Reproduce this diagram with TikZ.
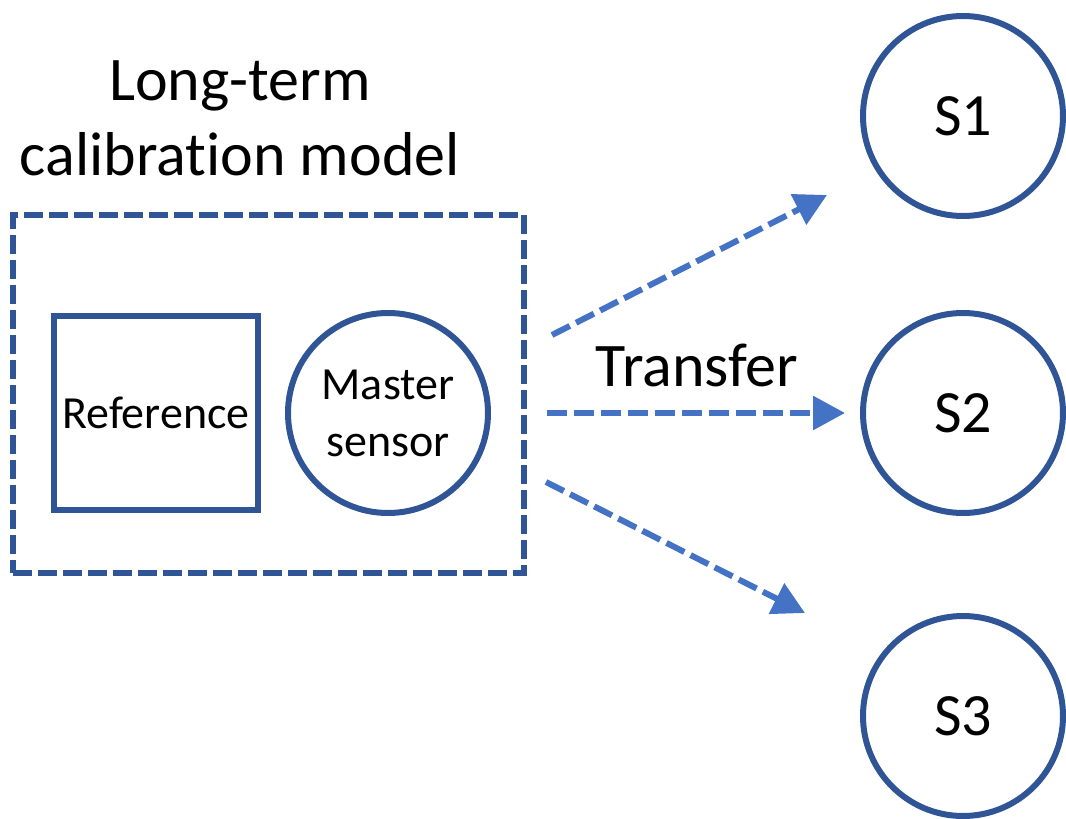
\documentclass[tikz,border=0pt]{standalone}
\usepackage{fontspec}
\setmainfont{Carlito}[Ligatures=NoCommon]
\usetikzlibrary{arrows.meta}
\definecolor{boxblue}{HTML}{2F5597}
\definecolor{arrowblue}{HTML}{4472C4}
\tikzset{
  outline/.style={draw=boxblue, line width=6pt},
  sensor/.style={outline, circle, minimum size=200pt, inner sep=0pt, font=\fontsize{60}{73}\selectfont},
  transfer/.style={draw=arrowblue, line width=6pt, dash pattern=on 20pt off 7pt,
    -{Triangle[length=32pt,width=33pt]}},
}
\begin{document}
\begin{tikzpicture}[x=1pt,y=-1pt]
\useasboundingbox (0,0) rectangle (1066,819);
\clip (0,0) rectangle (1066,819);
\node[anchor=base, font=\fontsize{62}{75}\selectfont] (title1) at (240,100) {Long-term};
\node[anchor=base, font=\fontsize{62}{75}\selectfont] (title2) at (240,175) {calibration model};
\node[draw=boxblue, line width=6pt, dash pattern=on 19pt off 6pt, minimum width=511pt, minimum height=358pt, inner sep=0pt] (model) at (268.5,394) {};
\node[outline, minimum width=203.5pt, minimum height=194pt, inner sep=0pt, font=\fontsize{46}{56}\selectfont] (ref) at (156,413) {Reference};
\node[outline, circle, minimum size=200pt, inner sep=0pt, align=center, font=\fontsize{46}{57}\selectfont] (master) at (388,413) {Master\\sensor};
\node[sensor] (s1) at (963,116) {S1};
\node[sensor] (s2) at (963,413) {S2};
\node[sensor] (s3) at (963,716) {S3};
\node[anchor=base, font=\fontsize{62}{75}\selectfont] (tlabel) at (697,386) {Transfer};
\coordinate (a1s) at (552,335);
\coordinate (a1e) at (827,195);
\coordinate (a2s) at (547,413);
\coordinate (a2e) at (845,413);
\coordinate (a3s) at (546,482);
\coordinate (a3e) at (805,613);
\draw[transfer] (a1s) -- (a1e);
\draw[transfer] (a2s) -- (a2e);
\draw[transfer] (a3s) -- (a3e);
\end{tikzpicture}
\end{document}
